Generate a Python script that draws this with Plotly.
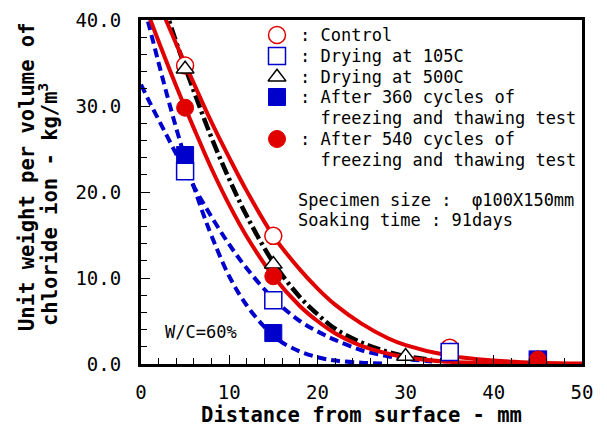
import plotly.graph_objects as go

# ---------------- data ----------------
# measured points
ctrl_x = [5, 15, 35, 45]
ctrl_y = [34.7, 14.9, 1.9, 0.5]
d105_x = [5, 15, 35, 45]
d105_y = [22.4, 7.4, 1.4, 0.5]
d500_x = [5, 15, 30, 45]
d500_y = [34.3, 11.6, 0.9, 0.5]
ft360_x = [5, 15, 45]
ft360_y = [24.3, 3.6, 0.5]
ft540_x = [5, 15, 45]
ft540_y = [29.8, 10.2, 0.5]

# fitted curves
c_ctrl_x = [0, 2, 3, 4, 6, 8, 10, 12, 15, 18, 20, 22, 25, 28, 30, 35, 40, 45, 50]
c_ctrl_y = [47.0, 42.0, 39.6, 37.2, 32.6, 28.1, 24.0, 20.1, 14.9, 11.0, 8.8, 6.9, 4.7, 3.0, 2.2, 0.95, 0.4, 0.15, 0.05]

c_540_x = [0, 1, 2, 4, 6, 8, 10, 12, 15, 18, 20, 22, 25, 30, 35, 40, 45, 50]
c_540_y = [42.9, 40.2, 37.5, 32.3, 27.4, 22.7, 18.5, 14.8, 10.2, 6.75, 5.0, 3.58, 2.12, 0.78, 0.25, 0.07, 0.02, 0.0]

c_500_x = [0, 2, 3, 4, 6, 8, 10, 12, 15, 18, 20, 22, 25, 28, 30, 33]
c_500_y = [49.7, 43.5, 40.5, 37.4, 31.7, 26.3, 21.5, 17.2, 11.8, 7.8, 5.8, 4.1, 2.5, 1.4, 0.9, 0.47]

c_360_x = [0, 1, 2, 3, 4, 5, 6, 7, 8, 10, 12, 14, 15, 16, 18, 20, 22, 25, 28]
c_360_y = [43.0, 39.0, 35.0, 31.1, 27.4, 23.9, 20.6, 17.6, 14.9, 10.2, 6.8, 4.3, 3.3, 2.5, 1.46, 0.79, 0.40, 0.15, 0.05]

c_105_x = [0, 1, 2, 3, 4, 5, 6, 8, 10, 12, 15, 18, 20, 22, 25, 28, 30, 33]
c_105_y = [32.5, 30.4, 28.4, 26.4, 24.4, 22.5, 20.6, 17.1, 13.9, 11.1, 7.6, 5.0, 3.8, 2.8, 1.6, 0.9, 0.6, 0.3]

x_ticks = [0, 10, 20, 30, 40, 50]
y_ticks = [0, 10, 20, 30, 40]

legend_labels = [
    ["Control"],
    ["Drying at 105C"],
    ["Drying at 500C"],
    ["After 360 cycles of", "freezing and thawing test"],
    ["After 540 cycles of", "freezing and thawing test"],
]

RED = "#e00000"
BLUE = "#0000cc"
MONO = "DejaVu Sans Mono"
NB = "\u00a0"

# plot-area geometry in pixels (layout only)
L, R, T, B = 141, 582, 20, 364
W, H = R - L, B - T


def px(xp):
    return (xp - L) / W


def py(yp):
    return (B - yp) / H


marker_styles = [
    dict(symbol="circle", size=17, color="white", line=dict(color=RED, width=1.5)),
    dict(symbol="square", size=17, color="white", line=dict(color=BLUE, width=1.5)),
    dict(symbol="triangle-up", size=15.5, color="white", line=dict(color="black", width=1.5)),
    dict(symbol="square", size=17, color=BLUE, line=dict(color=BLUE, width=1)),
    dict(symbol="circle", size=17, color=RED, line=dict(color=RED, width=1)),
]

fig = go.Figure()

# curves
fig.add_trace(go.Scatter(x=c_105_x, y=c_105_y, mode="lines", line=dict(color=BLUE, width=4, dash="9px,5px", shape="spline"), showlegend=False))
fig.add_trace(go.Scatter(x=c_360_x, y=c_360_y, mode="lines", line=dict(color=BLUE, width=4, dash="9px,5px", shape="spline"), showlegend=False))
fig.add_trace(go.Scatter(x=c_500_x, y=c_500_y, mode="lines", line=dict(color="black", width=4.5, dash="13px,4px,3px,4px", shape="spline"), showlegend=False))
fig.add_trace(go.Scatter(x=c_540_x, y=c_540_y, mode="lines", line=dict(color=RED, width=4, shape="spline"), showlegend=False))
fig.add_trace(go.Scatter(x=c_ctrl_x, y=c_ctrl_y, mode="lines", line=dict(color=RED, width=4, shape="spline"), showlegend=False))

# markers
series = [(ctrl_x, ctrl_y), (d105_x, d105_y), (d500_x, d500_y), (ft360_x, ft360_y), (ft540_x, ft540_y)]
for (sx, sy), ms in zip(series, marker_styles):
    fig.add_trace(go.Scatter(x=sx, y=sy, mode="markers", marker=ms, showlegend=False))

# hand-drawn legend (on an overlay axis in plot-fraction units)
row_y = [35, 56, 77, 97, 139]
line_gap = 21
leg_marker_x = 277
leg_text_x = 298
for ms, yrow in zip(marker_styles, row_y):
    fig.add_trace(go.Scatter(x=[px(leg_marker_x)], y=[py(yrow)], mode="markers", marker=ms,
                             xaxis="x2", yaxis="y2", showlegend=False, hoverinfo="skip"))

ann_font = dict(family=MONO, size=17, color="black")
for lines, yrow in zip(legend_labels, row_y):
    for i, txt in enumerate(lines):
        prefix = ":" + NB if i == 0 else NB * 2
        fig.add_annotation(xref="paper", yref="paper", x=px(leg_text_x), y=py(yrow + i * line_gap),
                           text=prefix + txt, showarrow=False, xanchor="left", yanchor="middle",
                           font=ann_font)

axis_common = dict(showline=True, linewidth=3, linecolor="black", mirror=True,
                   showgrid=False, zeroline=False, ticks="inside", ticklen=9, tickwidth=1.3,
                   tickcolor="black", tickfont=dict(family=MONO, size=19, color="black"),
                   automargin=False)

fig.update_xaxes(range=[0, 50], tickvals=x_ticks, ticktext=[str(v) for v in x_ticks],
                 minor=dict(dtick=2, tick0=0, ticks="inside", ticklen=6, tickwidth=1.3, tickcolor="black"),
                 ticklabelstandoff=9,
                 title=dict(text="Distance from surface - mm", font=dict(family=MONO, size=20.5, color="black", weight="bold"), standoff=7),
                 **axis_common)
fig.update_yaxes(range=[0, 40], tickvals=y_ticks, ticktext=["%.1f" % v for v in y_ticks],
                 minor=dict(dtick=2, tick0=0, ticks="inside", ticklen=6, tickwidth=1.3, tickcolor="black"),
                 ticklabelstandoff=13,
                 **axis_common)

title_font = dict(family=MONO, size=20.5, color="black", weight="bold")
fig.add_annotation(xref="paper", yref="paper", x=px(27), y=py(177),
                   text="Unit weight per volume of", textangle=-90, showarrow=False,
                   xanchor="center", yanchor="middle", font=title_font)
fig.add_annotation(xref="paper", yref="paper", x=px(48), y=py(205),
                   text="chloride ion - kg/m<sup>3</sup>", textangle=-90, showarrow=False,
                   xanchor="center", yanchor="middle", font=title_font)
fig.add_annotation(xref="paper", yref="paper", x=px(296), y=py(200),
                   text="Specimen size : " + NB + "φ100X150mm", showarrow=False,
                   xanchor="left", yanchor="middle", font=ann_font)
fig.add_annotation(xref="paper", yref="paper", x=px(296), y=py(220),
                   text="Soaking time : 91days", showarrow=False,
                   xanchor="left", yanchor="middle", font=ann_font)
fig.add_annotation(xref="paper", yref="paper", x=px(163), y=py(332),
                   text="W/C=60%", showarrow=False, xanchor="left", yanchor="middle", font=ann_font)

fig.update_layout(
    width=607, height=427,
    margin=dict(l=L, r=607 - R, t=T, b=427 - B),
    paper_bgcolor="white", plot_bgcolor="white",
    showlegend=False,
    xaxis2=dict(overlaying="x", range=[0, 1], visible=False, fixedrange=True),
    yaxis2=dict(overlaying="y", range=[0, 1], visible=False, fixedrange=True),
)

fig.write_html("out.html")
